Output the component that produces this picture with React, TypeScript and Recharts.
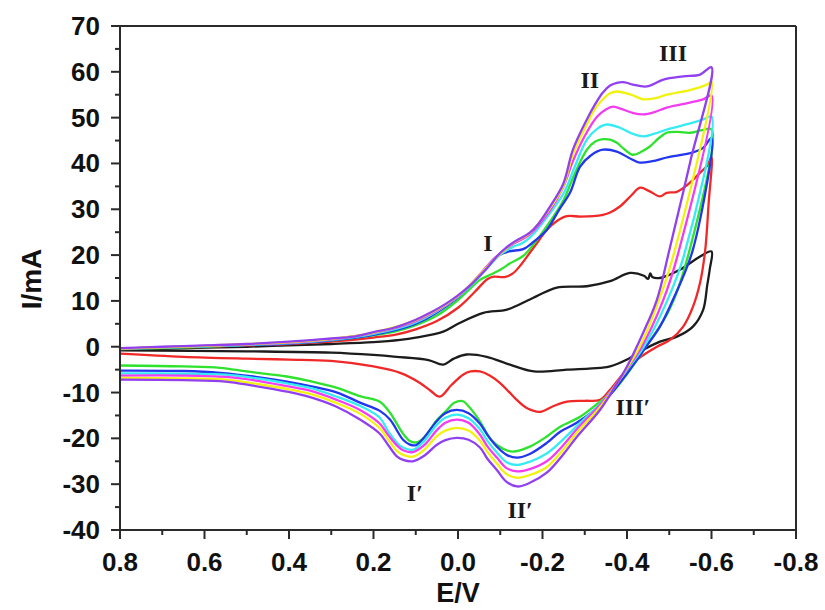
import { LineChart, Line, XAxis, YAxis, ReferenceLine, ReferenceDot, Label } from "recharts"

type Pt = [number, number]

// E (V) vs I (mA); each loop = anodic sweep 0.8 -> -0.6 then cathodic sweep back to 0.8
const blackLoop: Pt[] = [
    [0.8, -0.5], [0.7, -0.4], [0.6, -0.2], [0.5, 0], [0.4, 0.3], [0.3, 0.6], [0.2, 1.0], [0.137, 1.5],
    [0.1, 2.0], [0.035, 3.3], [0, 5.0], [-0.06, 7.4], [-0.116, 8.1], [-0.17, 10.3], [-0.234, 12.9],
    [-0.305, 13.2], [-0.36, 14.3], [-0.407, 16.1], [-0.44, 15.5], [-0.45, 14.8], [-0.455, 16],
    [-0.46, 15.2], [-0.478, 15], [-0.525, 16.8], [-0.573, 19.7], [-0.6, 20.8],
    [-0.596, 17], [-0.59, 13.5], [-0.58, 8], [-0.556, 4.4], [-0.518, 2.2], [-0.478, 1.1], [-0.438, -0.7],
    [-0.4, -2.8], [-0.36, -4.3], [-0.336, -4.6], [-0.258, -5], [-0.18, -5.4], [-0.123, -3.9],
    [-0.068, -2.2], [-0.02, -1.7], [0.01, -2.6], [0.035, -3.9], [0.07, -2.9], [0.146, -2.2],
    [0.2, -1.8], [0.3, -1.3], [0.5, -1.0], [0.8, -0.8],
]

const redLoop: Pt[] = [
    [0.8, -0.4], [0.7, -0.2], [0.6, 0], [0.5, 0.3], [0.4, 0.6], [0.3, 1.1], [0.2, 2], [0.15, 2.6],
    [0.1, 3.8], [0.05, 5.6], [0, 8.5], [-0.04, 12], [-0.07, 14.8], [-0.085, 15.3], [-0.11, 15.2],
    [-0.13, 16], [-0.15, 18], [-0.17, 20.5], [-0.19, 23], [-0.21, 25.5], [-0.235, 27.5], [-0.258, 28.5],
    [-0.29, 28.4], [-0.32, 28.5], [-0.343, 28.8], [-0.36, 29.3], [-0.383, 30.6], [-0.41, 33],
    [-0.431, 34.7], [-0.454, 33.9], [-0.478, 32.8], [-0.494, 33.6], [-0.518, 33.8], [-0.549, 35.8],
    [-0.573, 38], [-0.59, 39.5], [-0.6, 41.5],
    [-0.593, 31], [-0.585, 21], [-0.573, 14], [-0.556, 8.7], [-0.533, 4.4], [-0.502, 1.5], [-0.471, 0],
    [-0.424, -2.8], [-0.39, -6], [-0.36, -9.4], [-0.336, -11.6], [-0.3, -11.8], [-0.258, -12],
    [-0.225, -13], [-0.194, -14.2], [-0.165, -13.5], [-0.139, -11.6], [-0.12, -9.8], [-0.099, -7.9],
    [-0.075, -6.3], [-0.052, -5.4], [-0.03, -5.4], [-0.012, -6.1], [0.015, -8.3], [0.043, -10.9],
    [0.065, -9.6], [0.09, -7.9], [0.137, -5.7], [0.2, -4.3], [0.3, -3.1], [0.4, -2.8], [0.5, -2.6],
    [0.65, -2.2], [0.8, -1.5],
]

const greenLoop: Pt[] = [
    [0.8, -0.5], [0.7, -0.3], [0.6, 0], [0.5, 0.4], [0.4, 0.8], [0.3, 1.4], [0.2, 2.5], [0.15, 3.3],
    [0.1, 4.7], [0.05, 6.8], [0, 10.2], [-0.03, 12.8], [-0.052, 14.6], [-0.076, 15.7], [-0.1, 16.8],
    [-0.125, 18.3], [-0.154, 19.8], [-0.18, 22.5], [-0.21, 26.3], [-0.23, 29], [-0.25, 32],
    [-0.275, 37.5], [-0.305, 43], [-0.325, 44.8], [-0.343, 45.3], [-0.36, 45.2], [-0.376, 44.5],
    [-0.395, 43], [-0.414, 41.9], [-0.435, 42.6], [-0.454, 43.7], [-0.475, 45.5], [-0.494, 46.7],
    [-0.52, 46.9], [-0.549, 46.7], [-0.575, 47.2], [-0.6, 47.4],
    [-0.545, 20], [-0.5, 8], [-0.445, 0], [-0.4, -6], [-0.365, -10], [-0.336, -12], [-0.289, -15.3],
    [-0.241, -17.5], [-0.21, -19.6], [-0.17, -21.8], [-0.13, -22.9], [-0.107, -22.3], [-0.08, -20.5],
    [-0.05, -16], [-0.025, -13], [-0.012, -11.9], [0.01, -12.3], [0.026, -13.8], [0.05, -16],
    [0.066, -18.1], [0.085, -20.2], [0.1, -20.9], [0.115, -20.5], [0.13, -19], [0.161, -14.4],
    [0.185, -12], [0.232, -10.8], [0.286, -9], [0.35, -7.5], [0.405, -6.5], [0.5, -5.4],
    [0.563, -4.6], [0.65, -4.3], [0.8, -4.1],
]

const blueLoop: Pt[] = [
    [0.8, -0.5], [0.6, 0.1], [0.4, 0.7], [0.3, 1.4], [0.2, 2.6], [0.1, 5], [0, 10.8], [-0.05, 15.5],
    [-0.092, 19.7], [-0.12, 20.8], [-0.154, 21.3], [-0.18, 23], [-0.21, 25.5], [-0.24, 30],
    [-0.265, 33.6], [-0.289, 39.3], [-0.315, 41.8], [-0.343, 43], [-0.376, 42.6], [-0.405, 41.2],
    [-0.43, 40.2], [-0.46, 40.5], [-0.494, 41.3], [-0.556, 42.4], [-0.58, 43.4], [-0.6, 45.6],
    [-0.556, 21.2], [-0.509, 10.3], [-0.478, 4.4], [-0.445, 0], [-0.424, -2.8], [-0.376, -8.7],
    [-0.343, -12.3], [-0.281, -16.6], [-0.241, -18.6], [-0.21, -21], [-0.17, -23.4], [-0.14, -24.2],
    [-0.115, -23.6], [-0.092, -21.8], [-0.07, -19.3], [-0.052, -16.8], [-0.025, -14.5], [0.003, -13.8],
    [0.03, -14.5], [0.05, -16.2], [0.08, -19.8], [0.1, -21.5], [0.115, -21.3], [0.13, -20.3],
    [0.161, -15.9], [0.185, -14], [0.232, -12.2], [0.286, -10], [0.35, -8.6], [0.405, -7.6],
    [0.485, -6.5], [0.563, -5.7], [0.65, -5.3], [0.8, -5.2],
]

const cyanLoop: Pt[] = [
    [0.8, -0.4], [0.6, 0.1], [0.4, 0.8], [0.3, 1.5], [0.2, 2.8], [0.1, 5.3], [0, 10.9], [-0.05, 15.2],
    [-0.1, 20.1], [-0.13, 21.8], [-0.15, 22.5], [-0.17, 23.8], [-0.2, 27], [-0.25, 33.5], [-0.275, 39],
    [-0.305, 45.2], [-0.33, 47.6], [-0.352, 48.5], [-0.383, 47.8], [-0.41, 46.6], [-0.438, 45.9],
    [-0.465, 46.5], [-0.494, 47.4], [-0.556, 48.9], [-0.58, 49.6], [-0.6, 50.2],
    [-0.535, 20], [-0.495, 10], [-0.44, 0], [-0.4, -5], [-0.367, -9.1], [-0.336, -12.5], [-0.281, -17.3],
    [-0.249, -20.2], [-0.21, -23.3], [-0.17, -25.1], [-0.14, -25.8], [-0.115, -25.2], [-0.092, -23.1],
    [-0.07, -20.6], [-0.052, -18], [-0.025, -15.6], [0.003, -14.8], [0.03, -15.5], [0.05, -17],
    [0.08, -20.6], [0.107, -22.5], [0.13, -22], [0.144, -21], [0.165, -18.5], [0.185, -15.5],
    [0.232, -12.9], [0.29, -10.8], [0.35, -9], [0.405, -8], [0.485, -6.8], [0.55, -6.1], [0.65, -5.9],
    [0.8, -5.8],
]

const magentaLoop: Pt[] = [
    [0.8, -0.4], [0.6, 0.2], [0.4, 0.9], [0.3, 1.6], [0.2, 3], [0.1, 5.6], [0, 11], [-0.092, 19.8],
    [-0.13, 22.4], [-0.17, 24.5], [-0.218, 29.8], [-0.249, 34.8], [-0.272, 40.5], [-0.3, 46],
    [-0.329, 50.2], [-0.35, 51.8], [-0.367, 52.4], [-0.39, 51.8], [-0.415, 51], [-0.438, 50.7],
    [-0.465, 51.2], [-0.494, 52.2], [-0.549, 53.3], [-0.58, 54], [-0.6, 54.8],
    [-0.52, 20], [-0.485, 10], [-0.435, 0], [-0.4, -4.8], [-0.367, -9.2], [-0.336, -12.7], [-0.281, -18],
    [-0.249, -21.5], [-0.21, -25], [-0.17, -26.7], [-0.14, -27.2], [-0.115, -26.5], [-0.092, -24.2],
    [-0.07, -21.8], [-0.052, -19.2], [-0.025, -16.6], [0.003, -15.9], [0.03, -16.6], [0.05, -18.2],
    [0.08, -21.5], [0.107, -23], [0.13, -22.6], [0.144, -21.6], [0.165, -19.3], [0.185, -16.8],
    [0.232, -13.8], [0.29, -11.5], [0.35, -9.6], [0.405, -8.6], [0.485, -7.3], [0.55, -6.6],
    [0.65, -6.3], [0.8, -6.3],
]

const yellowLoop: Pt[] = [
    [0.8, -0.4], [0.6, 0.2], [0.4, 1.0], [0.3, 1.7], [0.2, 3.1], [0.1, 5.8], [0, 11.1], [-0.092, 19.6],
    [-0.13, 22.6], [-0.17, 24.8], [-0.218, 30.3], [-0.249, 35], [-0.272, 42], [-0.305, 48.5],
    [-0.325, 52], [-0.343, 54], [-0.36, 55.3], [-0.376, 55.7], [-0.41, 55], [-0.438, 54],
    [-0.465, 54.2], [-0.494, 55], [-0.549, 56], [-0.589, 57.2], [-0.6, 57.8],
    [-0.51, 20], [-0.475, 10], [-0.43, 0], [-0.4, -4.6], [-0.367, -9.3], [-0.336, -13.2],
    [-0.281, -18.8], [-0.249, -22.5], [-0.21, -26.3], [-0.17, -28], [-0.14, -28.6], [-0.115, -27.8],
    [-0.092, -25.5], [-0.07, -23], [-0.052, -20.5], [-0.025, -18.3], [0.003, -17.7], [0.03, -18.3],
    [0.05, -19.5], [0.08, -22.5], [0.107, -24], [0.13, -23.6], [0.144, -22.8], [0.165, -20.3],
    [0.185, -17.8], [0.232, -14.6], [0.29, -12.2], [0.35, -10.3], [0.405, -9.2], [0.485, -8],
    [0.55, -7.2], [0.65, -6.9], [0.8, -6.8],
]

const purpleLoop: Pt[] = [
    [0.8, -0.3], [0.7, 0], [0.6, 0.3], [0.5, 0.6], [0.4, 1.1], [0.3, 1.8], [0.248, 2.2], [0.2, 3.2],
    [0.15, 4.2], [0.1, 5.9], [0.066, 7.4], [0.03, 9.3], [0, 11.2], [-0.03, 13.5], [-0.06, 16.3],
    [-0.092, 19.7], [-0.11, 21.3], [-0.13, 22.7], [-0.17, 24.9], [-0.19, 26.8], [-0.218, 30.6],
    [-0.249, 35.5], [-0.272, 43], [-0.305, 49.6], [-0.325, 53], [-0.343, 55.5], [-0.36, 57],
    [-0.376, 57.6], [-0.395, 57.7], [-0.414, 57.2], [-0.447, 56.8], [-0.486, 58.3], [-0.533, 59],
    [-0.573, 59.4], [-0.6, 61],
    [-0.55, 40.5], [-0.5, 21], [-0.471, 10.3], [-0.438, 3], [-0.4, -4.3], [-0.367, -9.4],
    [-0.336, -13.8], [-0.281, -19.7], [-0.249, -23.5], [-0.21, -27.5], [-0.17, -29.7], [-0.14, -30.5],
    [-0.115, -29.5], [-0.092, -26.9], [-0.07, -24.5], [-0.052, -22], [-0.025, -20.3], [0.003, -19.9],
    [0.03, -20.4], [0.05, -21.4], [0.08, -23.8], [0.107, -25], [0.13, -24.7], [0.144, -24],
    [0.165, -21.5], [0.185, -19], [0.232, -15.9], [0.29, -13], [0.35, -11], [0.405, -9.8],
    [0.485, -8.5], [0.55, -7.6], [0.65, -7.3], [0.8, -7.2],
]

const loops = [
    { name: "black", color: "#1c1c1c", pts: blackLoop },
    { name: "red", color: "#f02828", pts: redLoop },
    { name: "green", color: "#2ee22e", pts: greenLoop },
    { name: "blue", color: "#2236ee", pts: blueLoop },
    { name: "cyan", color: "#36ecf2", pts: cyanLoop },
    { name: "magenta", color: "#f23cf0", pts: magentaLoop },
    { name: "yellow", color: "#f2f210", pts: yellowLoop },
    { name: "purple", color: "#9140f0", pts: purpleLoop },
]

const xTicks = [0.8, 0.7, 0.6, 0.5, 0.4, 0.3, 0.2, 0.1, 0, -0.1, -0.2, -0.3, -0.4, -0.5, -0.6, -0.7, -0.8]
const yTicks = [-40, -35, -30, -25, -20, -15, -10, -5, 0, 5, 10, 15, 20, 25, 30, 35, 40, 45, 50, 55, 60, 65, 70]

const peakLabels = [
    { text: "I", e: -0.071, i: 22.7 },
    { text: "II", e: -0.312, i: 58.3 },
    { text: "III", e: -0.509, i: 64.2 },
    { text: "I′", e: 0.102, i: -31.9 },
    { text: "II′", e: -0.147, i: -35.6 },
    { text: "III′", e: -0.414, i: -13.1 },
]

const sans = "'Liberation Sans', Arial, sans-serif"
const serif = "'Liberation Serif', 'Times New Roman', serif"
const axisColor = "#2a2a2a"

// centripetal catmull-rom, works on loops (x not monotone)
const smoothLoop = (context: any) => {
    let pts: number[][] = []
    return {
        areaStart() {},
        areaEnd() {},
        lineStart() { pts = [] },
        point(x: number, y: number) { pts.push([+x, +y]) },
        lineEnd() {
            if (!pts.length) return
            context.moveTo(pts[0][0], pts[0][1])
            const n = pts.length
            for (let k = 0; k < n - 1; k++) {
                const p0 = pts[Math.max(k - 1, 0)], p1 = pts[k], p2 = pts[k + 1], p3 = pts[Math.min(k + 2, n - 1)]
                const d01 = Math.hypot(p1[0] - p0[0], p1[1] - p0[1])
                const d12 = Math.hypot(p2[0] - p1[0], p2[1] - p1[1])
                const d23 = Math.hypot(p3[0] - p2[0], p3[1] - p2[1])
                const l01 = Math.sqrt(d01), l12 = Math.sqrt(d12), l23 = Math.sqrt(d23)
                let c1x = p1[0], c1y = p1[1], c2x = p2[0], c2y = p2[1]
                if (l01 > 1e-6) {
                    const a = 2 * d01 + 3 * l01 * l12 + d12
                    const m = 3 * l01 * (l01 + l12)
                    c1x = (p1[0] * a - p0[0] * d12 + p2[0] * d01) / m
                    c1y = (p1[1] * a - p0[1] * d12 + p2[1] * d01) / m
                }
                if (l23 > 1e-6) {
                    const b = 2 * d23 + 3 * l23 * l12 + d12
                    const m = 3 * l23 * (l23 + l12)
                    c2x = (p2[0] * b + p1[0] * d23 - p3[0] * d12) / m
                    c2y = (p2[1] * b + p1[1] * d23 - p3[1] * d12) / m
                }
                context.bezierCurveTo(c1x, c1y, c2x, c2y, p2[0], p2[1])
            }
        },
    }
}

const YTick = (props: any) => {
    const { x, y, payload } = props
    const v = payload.value
    const major = v % 10 === 0
    return (
        <g>
            <line x1={x} x2={x - (major ? 9 : 5)} y1={y} y2={y} stroke={axisColor} strokeWidth={2} />
            {major && (
                <text x={x - 20} y={y} textAnchor="end" dominantBaseline="central"
                    fontFamily={sans} fontWeight="bold" fontSize={26} fill="#111">
                    {v}
                </text>
            )}
        </g>
    )
}

const XTick = (props: any) => {
    const { x, y, payload } = props
    const v = payload.value
    const major = Math.round(v * 10) % 2 === 0
    return (
        <g>
            <line x1={x} x2={x} y1={y} y2={y + (major ? 9 : 5)} stroke={axisColor} strokeWidth={2} />
            {major && (
                <text x={x} y={y + 32} textAnchor="middle" dominantBaseline="central"
                    fontFamily={sans} fontWeight="bold" fontSize={26} fill="#111">
                    {v.toFixed(1)}
                </text>
            )}
        </g>
    )
}

const roman = (text: string) => (props: any) => {
    const vb = props.viewBox || {}
    const cx = (vb.x ?? vb.cx ?? 0) + (vb.width || 0) / 2
    const cy = (vb.y ?? vb.cy ?? 0) + (vb.height || 0) / 2
    return (
        <text x={cx} y={cy} textAnchor="middle" dominantBaseline="central"
            fontFamily={serif} fontWeight="bold" fontSize={24} fill="#1a1a1a">
            {text}
        </text>
    )
}

export default function App() {
    return (
        <div style={{ position: "absolute", left: 0, top: 0, width: 825, height: 610, background: "#fff" }}>
            <LineChart width={825} height={610} margin={{ top: 26, right: 29, left: 20, bottom: 30 }}>
                <XAxis
                    type="number"
                    dataKey="e"
                    domain={[-0.8, 0.8]}
                    reversed
                    ticks={xTicks}
                    interval={0}
                    height={50}
                    tickSize={0}
                    tickMargin={0}
                    tickLine={false}
                    tick={<XTick />}
                    axisLine={{ stroke: axisColor, strokeWidth: 2 }}
                    allowDataOverflow
                >
                    <Label
                        content={(p: any) => {
                            const vb = p.viewBox
                            return (
                                <text x={vb.x + vb.width / 2} y={vb.y + 63} textAnchor="middle"
                                    dominantBaseline="central" fontFamily={sans} fontWeight="bold"
                                    fontSize={27} fill="#111">
                                    E/V
                                </text>
                            )
                        }}
                    />
                </XAxis>
                <YAxis
                    type="number"
                    dataKey="i"
                    domain={[-40, 70]}
                    ticks={yTicks}
                    interval={0}
                    width={100}
                    tickSize={0}
                    tickMargin={0}
                    tickLine={false}
                    tick={<YTick />}
                    axisLine={{ stroke: axisColor, strokeWidth: 2 }}
                    allowDataOverflow
                >
                    <Label
                        content={(p: any) => {
                            const vb = p.viewBox
                            const cx = vb.x + 11
                            const cy = vb.y + vb.height / 2 + 1
                            return (
                                <text x={cx} y={cy} transform={`rotate(-90 ${cx} ${cy})`} textAnchor="middle"
                                    dominantBaseline="central" fontFamily={sans} fontWeight="bold"
                                    fontSize={28} fill="#111">
                                    I/mA
                                </text>
                            )
                        }}
                    />
                </YAxis>
                <ReferenceLine y={70} stroke={axisColor} strokeWidth={2} />
                <ReferenceLine x={-0.8} stroke={axisColor} strokeWidth={2} />
                {loops.map((l) => (
                    <Line
                        key={l.name}
                        data={l.pts.map(([e, i]) => ({ e, i }))}
                        dataKey="i"
                        type={smoothLoop as any}
                        stroke={l.color}
                        strokeWidth={2.3}
                        strokeLinejoin="round"
                        dot={false}
                        activeDot={false}
                        isAnimationActive={false}
                    />
                ))}
                {peakLabels.map((p) => (
                    <ReferenceDot key={p.text} x={p.e} y={p.i} r={0} fill="none" stroke="none" label={roman(p.text)} />
                ))}
            </LineChart>
        </div>
    )
}
